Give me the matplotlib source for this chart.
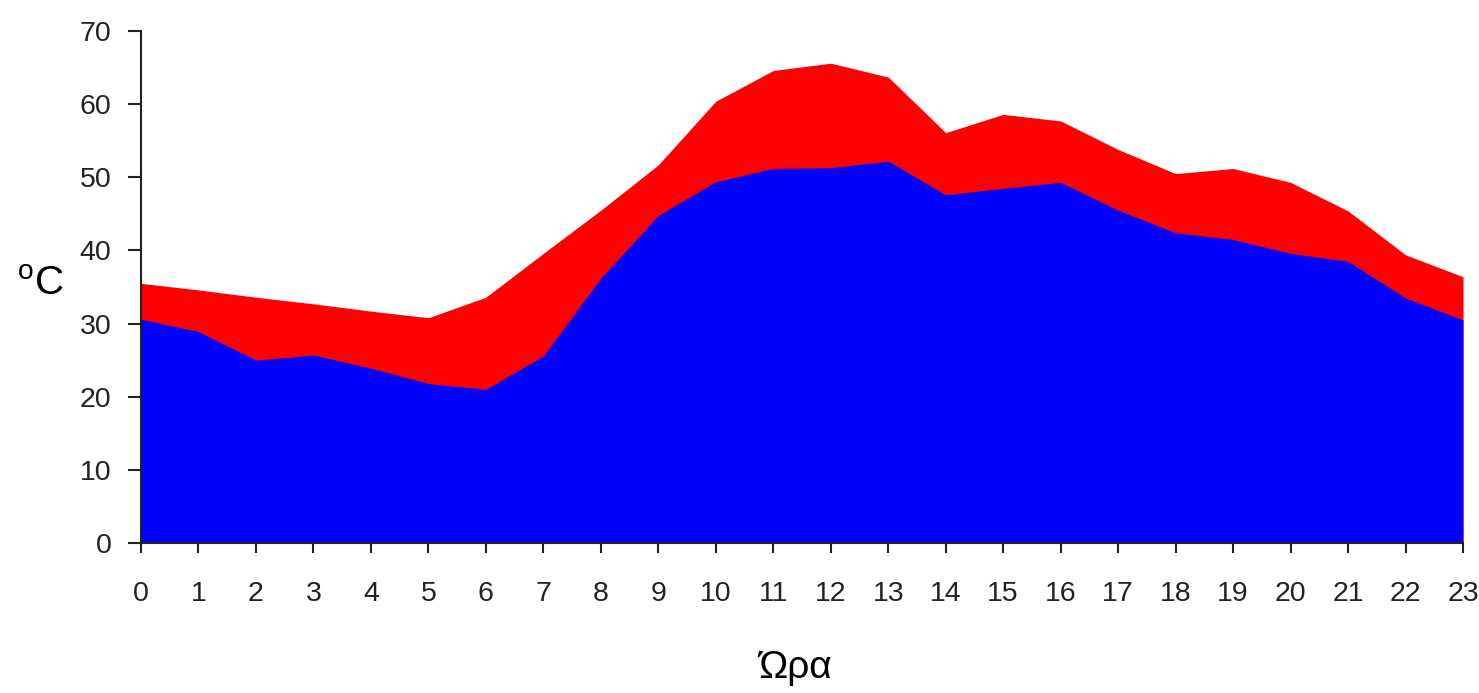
import matplotlib
matplotlib.use("Agg")
import matplotlib.pyplot as plt

plt.rcParams['font.family'] = ['Liberation Sans', 'DejaVu Sans']
plt.rcParams['mathtext.fontset'] = 'custom'
plt.rcParams['mathtext.rm'] = 'Liberation Sans'

hours = list(range(24))
upper_temp = [35.5, 34.6, 33.6, 32.7, 31.7, 30.8, 33.6, 39.6, 45.5, 51.7, 60.4, 64.6,
              65.6, 63.7, 56.1, 58.6, 57.7, 53.8, 50.5, 51.2, 49.3, 45.4, 39.4, 36.4]
lower_temp = [30.6, 28.9, 25.0, 25.7, 23.9, 21.8, 21.0, 25.6, 36.2, 44.8, 49.4, 51.2,
              51.3, 52.2, 47.6, 48.5, 49.3, 45.5, 42.4, 41.5, 39.6, 38.5, 33.5, 30.5]
y_ticks = [0, 10, 20, 30, 40, 50, 60, 70]

fig = plt.figure(figsize=(14.79, 6.93), dpi=100)
ax = fig.add_axes([141/1479, 1-543/693, (1463-141)/1479, (543-31)/693])

ax.fill_between(hours, 0, upper_temp, color='#FF0000', linewidth=0)
ax.fill_between(hours, 0, lower_temp, color='#0000FF', linewidth=0)

ax.set_xlim(0, 23)
ax.set_ylim(0, 70)
ax.set_xticks(hours)
ax.set_xticklabels([str(h) for h in hours])
ax.set_yticks(y_ticks)

for s in ['top', 'right']:
    ax.spines[s].set_visible(False)
for s in ['left', 'bottom']:
    ax.spines[s].set_linewidth(1.5)
    ax.spines[s].set_color('#222222')

ax.tick_params(axis='x', length=7.2, width=1.5, pad=20, labelsize=20.5, colors='#222222')
ax.tick_params(axis='y', length=9.4, width=1.5, pad=12, labelsize=20.5, colors='#222222')

ax.set_ylabel(r'$^{\mathrm{o}}$C', rotation=0, fontsize=29, ha='center', va='center')
ax.yaxis.set_label_coords((40-141)/1322, (543-284)/512)
ax.set_xlabel('Ώρα', fontsize=28, ha='center', va='center')
ax.xaxis.set_label_coords(0.495, (543-668)/512)

fig.savefig('out.png', dpi=100)
